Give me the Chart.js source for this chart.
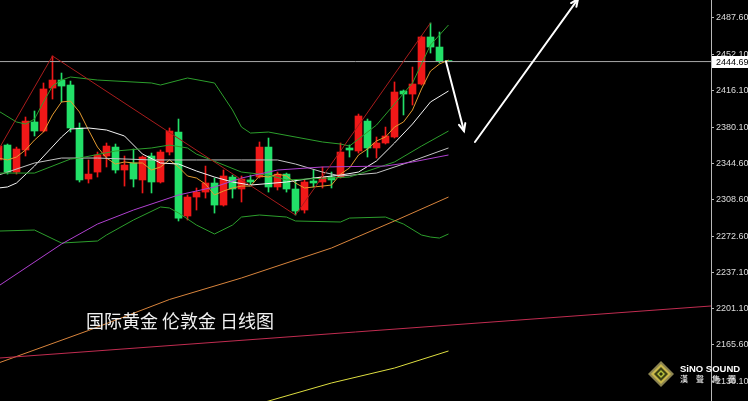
<!DOCTYPE html>
<html>
<head>
<meta charset="utf-8">
<script src="https://cdn.jsdelivr.net/npm/chart.js@4.4.1/dist/chart.umd.min.js"></script>
<style>
  html, body { margin: 0; padding: 0; background: #000; overflow: hidden; }
  canvas { display: block; }
</style>
</head>
<body>
<canvas id="chart" width="748" height="401"></canvas>
<script>
// daily bars, first one is cut by the left edge, last one is the bar just opened
var opens = [2347.8, 2362.5, 2335.9, 2357.6, 2385.2, 2376.3, 2418.6, 2426.5, 2421.6, 2379.3,
  2329.0, 2335.9, 2351.7, 2360.5, 2337.9, 2344.8, 2328.1, 2351.7, 2326.1, 2355.6,
  2375.3, 2292.6, 2311.3, 2316.2, 2325.1, 2303.4, 2331.0, 2319.2, 2328.1, 2331.0,
  2360.5, 2321.2, 2333.9, 2319.2, 2298.5, 2327.1, 2326.1, 2331.0, 2331.0, 2359.6,
  2356.6, 2386.1, 2359.6, 2364.5, 2370.4, 2415.7, 2412.7, 2422.6, 2468.9, 2459.0, 2444.69];
var highs = [2364.5, 2363.5, 2360.5, 2390.1, 2396.0, 2423.6, 2450.2, 2433.4, 2425.5, 2384.2,
  2347.8, 2355.6, 2364.5, 2363.5, 2351.7, 2358.6, 2351.7, 2354.6, 2357.6, 2379.3,
  2388.1, 2313.3, 2320.2, 2341.8, 2330.0, 2337.9, 2332.9, 2332.0, 2332.9, 2365.5,
  2369.4, 2335.9, 2334.9, 2328.1, 2328.1, 2337.9, 2340.9, 2335.9, 2364.5, 2362.5,
  2393.0, 2388.1, 2370.4, 2380.2, 2424.6, 2416.7, 2439.3, 2469.8, 2482.7, 2473.8, 2444.69];
var lows = [2342.8, 2333.9, 2333.9, 2351.7, 2371.4, 2375.3, 2407.8, 2404.9, 2375.3, 2326.1,
  2325.1, 2331.0, 2340.9, 2334.9, 2322.1, 2321.2, 2315.3, 2315.3, 2325.1, 2352.7,
  2287.7, 2288.7, 2298.5, 2310.3, 2295.5, 2302.4, 2310.3, 2306.4, 2322.1, 2330.0,
  2316.2, 2318.2, 2316.2, 2293.6, 2295.5, 2321.2, 2320.2, 2320.2, 2330.0, 2350.7,
  2354.6, 2350.7, 2349.7, 2363.5, 2369.4, 2392.1, 2401.9, 2421.6, 2453.1, 2443.3, 2444.69];
var closes = [2361.5, 2335.9, 2358.6, 2386.1, 2376.3, 2417.7, 2426.5, 2420.6, 2379.3, 2328.1,
  2333.9, 2352.7, 2361.5, 2337.9, 2342.8, 2329.0, 2350.7, 2326.1, 2355.6, 2376.3,
  2290.6, 2311.3, 2316.2, 2325.1, 2303.4, 2332.0, 2319.2, 2329.0, 2326.1, 2360.5,
  2321.2, 2333.9, 2319.2, 2297.5, 2326.1, 2325.1, 2331.0, 2328.1, 2355.6, 2357.6,
  2391.1, 2359.6, 2364.5, 2371.4, 2414.7, 2412.7, 2422.6, 2468.9, 2459.0, 2444.69, 2444.69];
var lastPrice = 2444.69;

// price axis
var yTicks = [2487.6, 2452.1, 2416.1, 2380.1, 2344.6, 2308.6, 2272.6, 2237.1, 2201.1, 2165.6, 2130.1];
var yMin = 2110.45, yMax = 2505.32;
var xMin = -0.8333, xMax = 78.1667;

// indicator lines (bar index -> price)
var ma5X = [-1, 0, 1, 2, 3, 4, 5, 6, 7, 8, 9, 10, 11, 12, 13, 14, 15, 16, 17, 18, 19, 20, 21, 22, 23, 24,
  25, 26, 27, 28, 29, 30, 31, 32, 33, 34, 35, 36, 37, 38, 39, 40, 41, 42, 43, 44, 45, 46, 47, 48, 49];
var ma5Y = [2349.7, 2347.8, 2350.7, 2357.6, 2367.4, 2375.3, 2392.1, 2404.9, 2405.8, 2395.0, 2377.3,
  2360.5, 2349.7, 2343.8, 2345.8, 2344.8, 2344.8, 2337.9, 2340.9, 2347.8, 2340.9, 2332.0, 2330.0,
  2324.1, 2313.3, 2317.2, 2320.2, 2322.1, 2322.1, 2332.0, 2331.0, 2333.9, 2332.0, 2325.1, 2320.2,
  2321.2, 2322.1, 2323.1, 2333.9, 2339.9, 2352.7, 2358.6, 2366.5, 2370.4, 2380.2, 2385.2, 2397.0,
  2417.7, 2435.4, 2442.3, 2446.2];
var ma10X = [-1, 0, 1, 3, 6, 7, 9, 11, 13, 15, 17, 19, 21, 23, 25, 27, 31, 34, 37, 39, 41, 43, 45, 47, 49];
var ma10Y = [2320.2, 2321.2, 2325.1, 2341.8, 2370.4, 2378.3, 2379.3, 2377.3, 2371.4, 2353.6, 2344.8,
  2343.8, 2336.9, 2331.0, 2326.1, 2323.1, 2326.1, 2330.0, 2332.9, 2335.9, 2346.8, 2364.5, 2383.2,
  2404.9, 2415.7];
var ma30X = [-1, 3, 6, 10, 16, 21, 26, 30, 32, 35, 37, 41, 45, 49];
var ma30Y = [2332.9, 2344.8, 2349.7, 2349.7, 2347.8, 2347.8, 2347.8, 2347.8, 2343.8, 2335.9, 2332.0,
  2334.9, 2346.8, 2359.6];
var midX = [-1, 3, 7, 8, 12, 16, 18, 20, 21, 26, 29, 31, 38, 39, 43, 46, 49];
var midY = [2334.9, 2334.9, 2348.7, 2349.7, 2356.6, 2359.6, 2362.5, 2359.6, 2353.6, 2335.9, 2332.9,
  2328.1, 2331.0, 2333.9, 2345.8, 2361.5, 2376.3];
var upperX = [-1, 1, 2, 3, 4, 5, 6, 7, 10, 16, 17, 20, 23, 25, 26, 27, 29, 35, 37, 38, 41, 45, 47, 49];
var upperY = [2396.0, 2385.2, 2383.2, 2388.1, 2404.9, 2420.6, 2426.5, 2429.5, 2426.5, 2423.6, 2421.6,
  2428.5, 2423.6, 2397.0, 2380.2, 2374.3, 2375.3, 2365.5, 2363.5, 2361.5, 2382.2, 2423.6, 2461.0, 2480.7];
var lowerX = [-1, 3, 6, 10, 11, 14, 17, 18, 19, 21, 23, 25, 26, 28, 31, 32, 37, 38, 42, 44, 46, 47, 48, 49];
var lowerY = [2277.8, 2278.8, 2266.0, 2268.0, 2273.9, 2288.7, 2301.5, 2300.5, 2295.6, 2283.7, 2274.9,
  2283.7, 2291.6, 2293.6, 2291.6, 2287.7, 2286.7, 2290.6, 2291.6, 2284.7, 2273.9, 2271.9, 2270.9, 2274.9];
var ma60X = [-1, 6, 10, 14, 19, 23, 26, 30, 35, 42, 45, 49];
var ma60Y = [2223.7, 2265.0, 2284.7, 2298.5, 2313.3, 2321.2, 2330.0, 2337.9, 2340.9, 2341.8, 2345.8, 2352.7];
var ma120X = [-1, 9, 18, 26, 36, 43, 49];
var ma120Y = [2147.9, 2179.9, 2210.4, 2231.6, 2261.1, 2287.7, 2311.3];
var ma250X = [20, 29, 36, 43, 49];
var ma250Y = [2086.8, 2110.4, 2128.2, 2142.9, 2159.7];
var zigX = [-1.5, 5, 32, 47];
var zigY = [2350.3, 2450.2, 2293.6, 2482.7];
var trendX = [-0.8333, 78.1667];
var trendY = [2152.8, 2204.0];

// hand drawn arrows: [fromIndex, fromPrice, toIndex, toPrice]
var arrows = [[48.72, 2444.7, 50.72, 2376.3], [51.94, 2365.5, 63.39, 2506.3]];

var title = '国际黄金 伦敦金 日线图';

var RED = '#f01818', GREEN = '#22e068';
var barIdx = opens.map(function (o, k) { return k - 1; });
var barColors = opens.map(function (o, k) { return closes[k] > o ? RED : GREEN; });

function pts(xs, ys) {
  return xs.map(function (x, k) { return { x: x, y: ys[k] }; });
}
function lineSet(xs, ys, color) {
  return { type: 'line', data: pts(xs, ys), borderColor: color, borderWidth: 1,
    pointRadius: 0, tension: 0, order: 1 };
}

function arrow(ctx, x1, y1, x2, y2) {
  var a = Math.atan2(y2 - y1, x2 - x1), L = 8;
  ctx.beginPath();
  ctx.moveTo(x1, y1);
  ctx.lineTo(x2, y2);
  ctx.stroke();
  ctx.beginPath();
  ctx.moveTo(x2 - L * Math.cos(a - 0.42), y2 - L * Math.sin(a - 0.42));
  ctx.lineTo(x2, y2);
  ctx.lineTo(x2 - L * Math.cos(a + 0.42), y2 - L * Math.sin(a + 0.42));
  ctx.stroke();
}

var overlay = {
  id: 'overlay',
  beforeDraw: function (chart) {
    var ctx = chart.ctx;
    ctx.save();
    ctx.fillStyle = '#000';
    ctx.fillRect(0, 0, chart.width, chart.height);
    ctx.restore();
  },
  afterDraw: function (chart) {
    var ctx = chart.ctx, xs = chart.scales.x, ys = chart.scales.y, area = chart.chartArea;
    ctx.save();

    // arrows
    ctx.beginPath();
    ctx.rect(area.left, area.top, area.right - area.left, area.bottom - area.top);
    ctx.clip();
    ctx.strokeStyle = '#ffffff';
    ctx.lineWidth = 2;
    ctx.lineCap = 'round';
    arrows.forEach(function (a) {
      arrow(ctx, xs.getPixelForValue(a[0]), ys.getPixelForValue(a[1]),
        xs.getPixelForValue(a[2]), ys.getPixelForValue(a[3]));
    });
    ctx.restore();

    ctx.save();
    // title
    ctx.fillStyle = '#f0f0f0';
    ctx.font = '18px "Noto Sans CJK SC"';
    ctx.textBaseline = 'alphabetic';
    ctx.fillText(title, 86, 328);

    // last price box
    var py = Math.round(ys.getPixelForValue(lastPrice));
    ctx.fillStyle = '#ffffff';
    ctx.fillRect(area.right + 1, py - 6, chart.width - area.right - 1, 12);
    ctx.fillStyle = '#000';
    ctx.font = '9px "Liberation Sans"';
    ctx.textBaseline = 'middle';
    ctx.fillText(lastPrice.toFixed(2), area.right + 5, py + 0.5);

    // logo
    var cx = 661, cy = 374;
    function diamond(r, color) {
      ctx.beginPath();
      ctx.moveTo(cx, cy - r); ctx.lineTo(cx + r, cy); ctx.lineTo(cx, cy + r); ctx.lineTo(cx - r, cy);
      ctx.closePath();
      ctx.fillStyle = color;
      ctx.fill();
    }
    diamond(13, '#8c8450');
    diamond(10, '#c9b84a');
    diamond(7, '#3d4214');
    diamond(4, '#b6c23a');
    diamond(2, '#2a3010');
    ctx.fillStyle = '#ffffff';
    ctx.textBaseline = 'alphabetic';
    ctx.font = 'bold 9.5px "Liberation Sans"';
    ctx.fillText('SiNO SOUND', 680, 372);
    ctx.font = '8px "Noto Sans CJK TC"';
    ctx.letterSpacing = '8px';
    ctx.fillText('漢聲集團', 680, 382);
    ctx.restore();
  }
};

new Chart(document.getElementById('chart'), {
  type: 'bar',
  data: {
    datasets: [
      lineSet(trendX, trendY, '#c02c50'),
      lineSet(zigX, zigY, '#a81c1c'),
      lineSet(ma250X, ma250Y, '#dede40'),
      lineSet(ma120X, ma120Y, '#d8843c'),
      lineSet(ma60X, ma60Y, '#b040d0'),
      lineSet(lowerX, lowerY, '#2c9e2c'),
      lineSet(upperX, upperY, '#2c9e2c'),
      lineSet(midX, midY, '#2c9e2c'),
      lineSet(ma30X, ma30Y, '#c4c4c4'),
      lineSet(ma10X, ma10Y, '#f4f4f4'),
      lineSet(ma5X, ma5Y, '#e39a2f'),
      lineSet([xMin, xMax], [lastPrice, lastPrice], '#a8a8a8'),
      {
        type: 'bar',
        data: barIdx.map(function (i, k) { return { x: i, y: [opens[k], closes[k]] }; }),
        backgroundColor: barColors,
        barThickness: 7,
        minBarLength: 1,
        grouped: false,
        order: 5
      },
      {
        type: 'bar',
        data: barIdx.map(function (i, k) { return { x: i, y: [lows[k], highs[k]] }; }),
        backgroundColor: barColors,
        barThickness: 1,
        grouped: false,
        order: 6
      }
    ]
  },
  options: {
    responsive: false,
    animation: false,
    devicePixelRatio: 1,
    layout: { padding: 0 },
    plugins: { legend: { display: false }, tooltip: { enabled: false } },
    scales: {
      x: { type: 'linear', min: xMin, max: xMax, offset: false, bounds: 'ticks', display: false },
      y: {
        position: 'right',
        min: yMin,
        max: yMax,
        afterBuildTicks: function (scale) {
          scale.ticks = yTicks.map(function (v) { return { value: v }; });
        },
        afterFit: function (scale) {
          scale.width = 37;
          scale.paddingTop = 0;
          scale.paddingBottom = 0;
        },
        ticks: {
          color: '#dcdcdc',
          font: { family: 'Liberation Sans', size: 9 },
          padding: 2,
          autoSkip: false,
          callback: function (v) { return v.toFixed(2); }
        },
        grid: { drawOnChartArea: false, tickLength: 3, color: '#b8b8b8' },
        border: { color: '#b8b8b8' }
      }
    }
  },
  plugins: [overlay]
});
</script>
</body>
</html>
